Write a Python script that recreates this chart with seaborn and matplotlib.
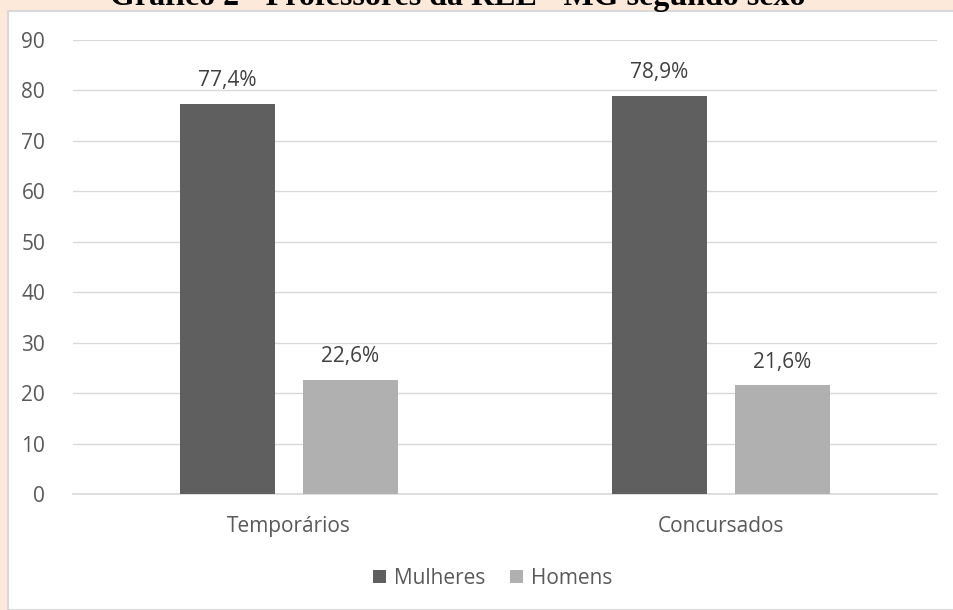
import matplotlib
matplotlib.use("Agg")
import matplotlib.pyplot as plt
import seaborn as sns
import pandas as pd
from matplotlib.patches import Rectangle

categories = ["Temporários", "Concursados"]
mulheres = [77.4, 78.9]
homens = [22.6, 21.6]
series_names = ["Mulheres", "Homens"]
yticks = [0, 10, 20, 30, 40, 50, 60, 70, 80, 90]
title = "Gráfico 2 - Professores da REE - MG segundo sexo"

df = pd.DataFrame({
    "cat": categories * 2,
    "sexo": [series_names[0]] * 2 + [series_names[1]] * 2,
    "val": mulheres + homens,
})

sns.set_theme(style="white")
plt.rcParams["font.family"] = ["Open Sans", "DejaVu Sans"]

W, H = 954, 610
fig = plt.figure(figsize=(W / 100, H / 100), dpi=100)
fig.patch.set_facecolor("#FDE9D9")

# white panel
panel = Rectangle((8 / W, 0), 1, 1 - 11 / H, transform=fig.transFigure,
                  facecolor="white", edgecolor="#D9D9D9", linewidth=1.5, zorder=-10)
fig.patches.append(panel)

ax = fig.add_axes([73 / W, (H - 494) / H, (937 - 73) / W, (494 - 40) / H])
ax.set_facecolor("none")
ax.set_zorder(1)

palette = {"Mulheres": "#5F5F5F", "Homens": "#B0B0B0"}
sns.barplot(data=df, x="cat", y="val", hue="sexo", palette=palette,
            width=0.569, gap=0.22, saturation=1, ax=ax, legend=True,
            order=categories, hue_order=series_names, zorder=3, linewidth=0)

ax.set_ylim(0, 90)
ax.set_xlim(-0.5, 1.5)
ax.set_yticks(yticks)
ax.set_yticklabels([str(t) for t in yticks])
ax.grid(axis="y", color="#D9D9D9", linewidth=1, zorder=0)
ax.set_axisbelow(True)
for s in ["top", "right", "left"]:
    ax.spines[s].set_visible(False)
ax.spines["bottom"].set_color("#D9D9D9")
ax.spines["bottom"].set_linewidth(1.2)
ax.tick_params(axis="y", length=0, pad=20, labelsize=15, labelcolor="#595959")
ax.tick_params(axis="x", length=0, pad=16, labelsize=15, labelcolor="#595959")
ax.set_xlabel("")
ax.set_ylabel("")

for cont in ax.containers:
    labels = [f"{v:.1f}%".replace(".", ",") for v in cont.datavalues]
    ax.bar_label(cont, labels=labels, padding=9, fontsize=15, color="#404040")

handles, labs = ax.get_legend_handles_labels()
ax.get_legend().remove()
fig.legend(handles, labs, loc="center", bbox_to_anchor=(493 / W, 1 - 578 / H),
           ncol=2, frameon=False, fontsize=15, handlelength=0.6, handleheight=0.6,
           handletextpad=0.4, columnspacing=1.2, labelcolor="#595959")

fig.text(458 / W, 1 - 5.5 / H, title, ha="center", va="baseline",
         fontsize=23, fontweight="bold", family="Liberation Serif", color="black")

fig.savefig("out.png", dpi=100, facecolor=fig.get_facecolor())
